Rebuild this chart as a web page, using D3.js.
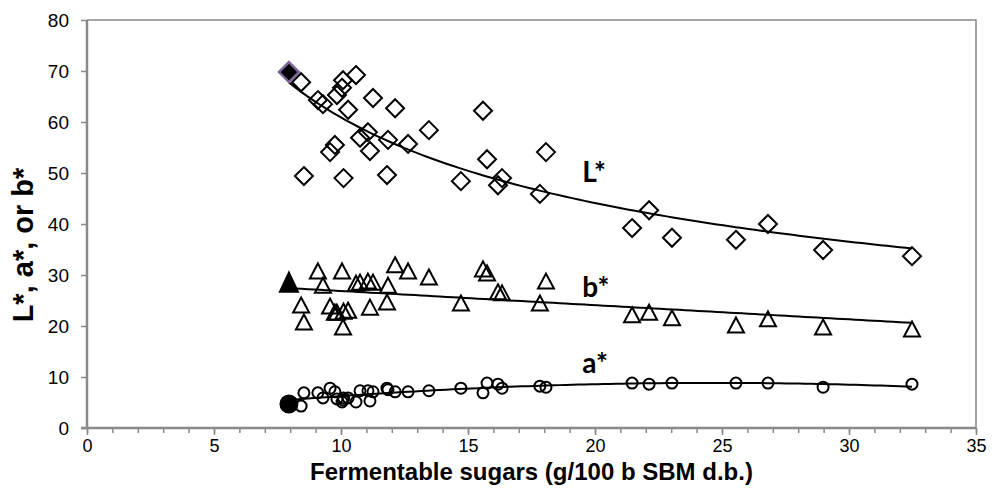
<!DOCTYPE html>
<html><head><meta charset="utf-8">
<script src="https://cdn.jsdelivr.net/npm/d3@7"></script>
<style>body{margin:0;background:#fff}svg{display:block}</style>
</head><body>
<svg id="c" width="995" height="501"></svg>
<script>
// ---- data (first sample = control, drawn filled) ----
const sugars = [7.95,8.43,8.54,9.09,9.29,9.57,9.76,9.84,10.04,10.08,10.10,10.28,10.59,10.75,11.06,11.14,11.26,11.81,11.85,12.13,12.64,13.46,14.72,15.59,15.75,16.18,16.34,17.83,18.07,21.46,22.13,23.03,25.55,26.81,28.98,32.48];
const Lstar = [69.8,67.8,49.4,64.3,63.5,54.1,55.5,65.3,66.7,68.2,49.0,62.4,69.2,56.9,58.0,54.3,64.7,49.6,56.5,62.7,55.7,58.4,48.4,62.2,52.7,47.6,49.0,45.9,54.1,39.2,42.7,37.3,36.9,40.0,34.9,33.7];
const bstar = [28.6,24.1,20.8,30.8,28.0,23.9,22.7,22.7,30.8,19.8,22.9,23.1,28.4,28.6,28.8,23.7,28.6,24.7,28.0,32.0,30.8,29.6,24.5,31.2,30.4,26.7,26.5,24.5,28.8,22.2,22.7,21.6,20.2,21.4,19.8,19.4];
const astar = [4.7,4.3,6.9,6.9,5.9,7.8,7.1,5.7,5.1,5.5,5.9,5.9,5.1,7.3,7.3,5.3,7.1,7.8,7.5,7.1,7.1,7.3,7.8,6.9,8.8,8.6,7.8,8.2,8.0,8.8,8.6,8.8,8.8,8.8,8.0,8.6];
const xTicks = [0,5,10,15,20,25,30,35];
const yTicks = [0,10,20,30,40,50,60,70,80];
const seriesLabels = [{t:"L*", x:19.5, y:48.2},{t:"b*", x:19.5, y:25.7},{t:"a*", x:19.5, y:10.8}];

const svg = d3.select("#c");
const m = {l:87, r:976, t:20, b:428};
const x = d3.scaleLinear().domain([0,35]).range([m.l,m.r]);
const y = d3.scaleLinear().domain([0,80]).range([m.b,m.t]);
const gray = "#898989";

// frame (top/right)
svg.append("path").attr("d",`M${m.l},${m.t}H${m.r}V${m.b}`).attr("fill","none").attr("stroke",gray).attr("stroke-width",1.5);

// x axis
const gx = svg.append("g").attr("transform",`translate(0,${m.b})`);
gx.call(d3.axisBottom(x).tickValues(d3.range(0,36,1)).tickSize(5).tickFormat(""));
gx.call(g=>g.selectAll(".tick line").attr("stroke",gray).attr("stroke-width",1.5));
const gx2 = svg.append("g").attr("transform",`translate(0,${m.b})`)
  .call(d3.axisBottom(x).tickValues(xTicks).tickSize(7).tickPadding(4).tickFormat(d3.format("d")));
gx2.selectAll(".tick line").attr("stroke",gray).attr("stroke-width",1.5);
gx2.selectAll("text").attr("font-family","Liberation Sans, Arial").attr("font-size",18).attr("fill","#000");
svg.selectAll(".domain").remove();

// y axis
const gy = svg.append("g").attr("transform",`translate(${m.l},0)`)
  .call(d3.axisLeft(y).tickValues(yTicks).tickSize(6).tickPadding(12).tickFormat(d3.format("d")));
gy.select(".domain").remove();
gy.selectAll(".tick line").attr("stroke",gray).attr("stroke-width",1.5);
gy.selectAll("text").attr("font-family","Liberation Sans, Arial").attr("font-size",19).attr("fill","#000");

// axis lines
svg.append("line").attr("x1",m.l).attr("x2",m.l).attr("y1",m.t).attr("y2",m.b+1).attr("stroke",gray).attr("stroke-width",2.5);
svg.append("line").attr("x1",m.l-6).attr("x2",m.r).attr("y1",m.b).attr("y2",m.b).attr("stroke",gray).attr("stroke-width",2.5);

// axis titles
svg.append("text").attr("x",(m.l+m.r)/2).attr("y",480).attr("text-anchor","middle")
  .attr("font-family","Liberation Sans, Arial").attr("font-weight","bold").attr("font-size",24)
  .text("Fermentable sugars (g/100 b SBM d.b.)");
svg.append("text").attr("transform","translate(33,245) rotate(-90)").attr("text-anchor","middle")
  .attr("font-family","Liberation Sans, Arial").attr("font-weight","bold").attr("font-size",29)
  .text("L*, a*, or b*");

// ---- regressions (trend lines computed from the data) ----
function linFit(xs, ys){
  const n=xs.length, mx=d3.mean(xs), my=d3.mean(ys);
  let sxy=0,sxx=0; for(let i=0;i<n;i++){sxy+=(xs[i]-mx)*(ys[i]-my); sxx+=(xs[i]-mx)**2;}
  const b=sxy/sxx; return {a:my-b*mx,b};
}
function powFit(xs, ys){
  const f=linFit(xs.map(Math.log), ys.map(Math.log));
  return v=>Math.exp(f.a)*Math.pow(v,f.b);
}
function quadFit(xs, ys){
  const S=k=>d3.sum(xs,v=>v**k), T=k=>d3.sum(xs.map((v,i)=>ys[i]*v**k));
  const A=[[S(0),S(1),S(2)],[S(1),S(2),S(3)],[S(2),S(3),S(4)]], B=[T(0),T(1),T(2)];
  for(let i=0;i<3;i++){for(let j=i+1;j<3;j++){const f=A[j][i]/A[i][i];for(let k=i;k<3;k++)A[j][k]-=f*A[i][k];B[j]-=f*B[i];}}
  const c=[0,0,0]; for(let i=2;i>=0;i--){let s=B[i];for(let k=i+1;k<3;k++)s-=A[i][k]*c[k];c[i]=s/A[i][i];}
  return v=>c[0]+c[1]*v+c[2]*v*v;
}
const fL=powFit(sugars,Lstar);
const lb=linFit(sugars,bstar), fB=v=>lb.a+lb.b*v;
const fA=quadFit(sugars,astar);
const xs=d3.range(100).map(i=>d3.min(sugars)+(d3.max(sugars)-d3.min(sugars))*i/99);
const line=d3.line().x(d=>x(d[0])).y(d=>y(d[1]));
[fL,fB,fA].forEach(f=>{
  svg.append("path").attr("d",line(xs.map(v=>[v,f(v)]))).attr("fill","none").attr("stroke","#000").attr("stroke-width",2);
});

// ---- markers ----
const diamond=(cx,cy,r)=>`M${cx},${cy-r}L${cx+r},${cy}L${cx},${cy+r}L${cx-r},${cy}Z`;
const tri=(cx,cy,w,h)=>`M${cx},${cy-h/2}L${cx+w/2},${cy+h/2}L${cx-w/2},${cy+h/2}Z`;
const mk=svg.append("g");
sugars.forEach((s,i)=>{
  const ctrl=i===0;
  mk.append("path").attr("d",diamond(x(s),y(Lstar[i]),ctrl?10:9))
    .attr("fill",ctrl?"#000":"none").attr("stroke",ctrl?"#7b679c":"#000").attr("stroke-width",ctrl?2.5:2);
  mk.append("path").attr("d",ctrl?tri(x(s),y(bstar[i]),18,19):tri(x(s),y(bstar[i]),16,15))
    .attr("fill",ctrl?"#000":"none").attr("stroke","#000").attr("stroke-width",2).attr("stroke-linejoin","miter");
  mk.append("circle").attr("cx",x(s)).attr("cy",y(astar[i])).attr("r",ctrl?8.5:5.5)
    .attr("fill",ctrl?"#000":"none").attr("stroke","#000").attr("stroke-width",2);
});

// series labels
svg.selectAll(".sl").data(seriesLabels).join("text").attr("class","sl")
  .attr("x",d=>x(d.x)).attr("y",d=>y(d.y))
  .attr("font-family","Lato, Open Sans, sans-serif").attr("font-weight","bold").attr("font-size",28)
  .text(d=>d.t);
</script>
</body></html>
